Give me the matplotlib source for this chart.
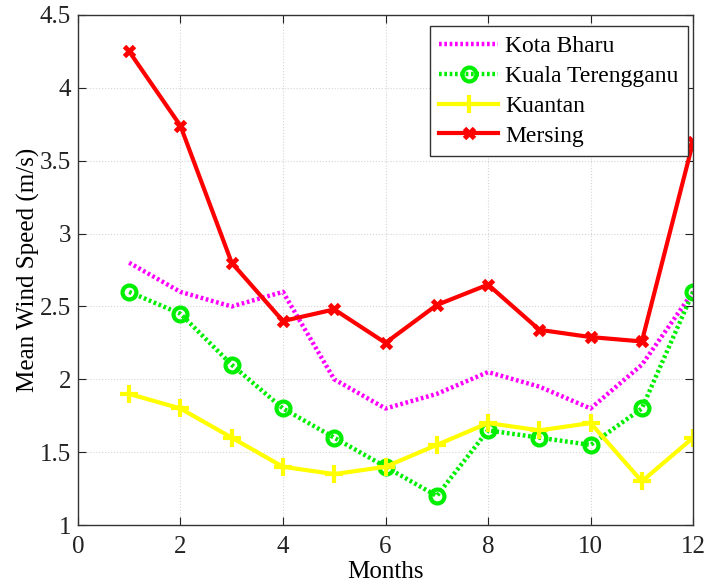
import matplotlib
matplotlib.use("Agg")
import matplotlib.pyplot as plt

months = [1, 2, 3, 4, 5, 6, 7, 8, 9, 10, 11, 12]
kota_bharu = [2.8, 2.6, 2.5, 2.6, 2.0, 1.8, 1.9, 2.05, 1.95, 1.8, 2.1, 2.6]
kuala_terengganu = [2.6, 2.45, 2.1, 1.8, 1.6, 1.4, 1.2, 1.65, 1.6, 1.55, 1.8, 2.6]
kuantan = [1.9, 1.8, 1.6, 1.4, 1.35, 1.4, 1.55, 1.7, 1.65, 1.7, 1.3, 1.6]
mersing = [4.25, 3.74, 2.8, 2.4, 2.48, 2.25, 2.51, 2.65, 2.34, 2.29, 2.26, 3.63]

plt.rcParams['font.family'] = ['Liberation Serif', 'DejaVu Serif']

fig = plt.figure(figsize=(7.08, 5.88), dpi=100)
ax = fig.add_axes([0.110, 0.107, 0.869, 0.8675])

ax.plot(months, kota_bharu, color='#FF00FF', linestyle=(0, (0.6, 0.6)), linewidth=3.2,
        label='Kota Bharu')
ax.plot(months, kuala_terengganu, color='#00EE00', linestyle=(0, (0.6, 0.6)), linewidth=3.2,
        marker='o', markersize=10, markerfacecolor='none', markeredgewidth=3,
        markeredgecolor='#00EE00', label='Kuala Terengganu')
ax.plot(months, kuantan, color='#FFFF00', linestyle='-', linewidth=3,
        marker='+', markersize=13, markeredgewidth=3, label='Kuantan')
ax.plot(months, mersing, color='#FF0000', linestyle='-', linewidth=3,
        marker='x', markersize=7, markeredgewidth=3.5, label='Mersing')

ax.set_xlim(0, 12)
ax.set_ylim(1, 4.5)
ax.set_xticks(range(0, 13, 2))
ax.set_yticks([1, 1.5, 2, 2.5, 3, 3.5, 4, 4.5])
ax.set_yticklabels(['1', '1.5', '2', '2.5', '3', '3.5', '4', '4.5'])
ax.grid(True, color='#D5D5D5', linestyle=':', linewidth=0.8)
ax.tick_params(direction='in', length=6, width=0.8, labelsize=18, top=True, right=True,
               colors='#222222')
ax.tick_params(axis='x', pad=8)
ax.tick_params(axis='y', pad=5)
for s in ax.spines.values():
    s.set_color('#333333')
    s.set_linewidth(1.0)

ax.set_xlabel('Months', fontsize=18, labelpad=2)
ax.set_ylabel('Mean Wind Speed (m/s)', fontsize=18, labelpad=0)

leg = ax.legend(loc='upper right', bbox_to_anchor=(0.992, 0.978), fontsize=17,
                fancybox=False, framealpha=1, edgecolor='#333333',
                handlelength=2.5, handletextpad=0.3, borderpad=0.4, labelspacing=0.35,
                borderaxespad=0.0)
leg.get_frame().set_linewidth(1.0)

fig.savefig('out.png', dpi=100)
